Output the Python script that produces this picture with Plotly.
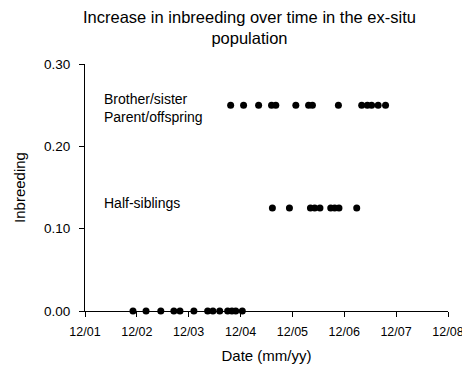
import plotly.graph_objects as go

# Inbreeding coefficient per recorded birth, grouped by parental relationship
dates_unrelated = ["2002-11-04", "2003-02-04", "2003-05-19", "2003-08-19", "2003-10-01",
                   "2004-01-07", "2004-04-13", "2004-05-20", "2004-07-07", "2004-09-01",
                   "2004-10-01", "2004-10-28", "2004-12-13"]
inbreeding_unrelated = [0.0] * len(dates_unrelated)

dates_half = ["2005-07-13", "2005-11-10", "2006-04-07", "2006-05-07", "2006-06-13",
              "2006-08-28", "2006-09-25", "2006-10-25", "2007-02-27"]
inbreeding_half = [0.125] * len(dates_half)

dates_full = ["2004-09-22", "2004-12-22", "2005-04-07", "2005-07-07", "2005-08-06",
              "2005-12-25", "2006-03-25", "2006-04-21", "2006-10-21", "2007-04-03",
              "2007-05-13", "2007-06-12", "2007-07-28", "2007-09-18"]
inbreeding_full = [0.25] * len(dates_full)

FONT = "Liberation Sans, Arial, sans-serif"

fig = go.Figure()
for xs, ys in [(dates_unrelated, inbreeding_unrelated),
               (dates_half, inbreeding_half),
               (dates_full, inbreeding_full)]:
    fig.add_trace(go.Scatter(
        x=xs, y=ys, mode="markers",
        marker=dict(color="black", size=7),
        showlegend=False, cliponaxis=False,
    ))

fig.update_layout(
    width=462, height=368,
    margin=dict(l=85, r=14, t=64, b=57),
    paper_bgcolor="white", plot_bgcolor="white",
    font=dict(family=FONT, size=14, color="black"),
    showlegend=False,
)

fig.update_xaxes(
    type="date",
    range=["2001-12-01", "2008-12-01"],
    tick0="2001-12-01", dtick="M12", tickformat="%m/%y",
    ticklabeloverflow="allow", automargin=False,
    tickfont=dict(size=12.5), ticklabelstandoff=4,
    showline=True, linecolor="black", linewidth=1,
    ticks="outside", ticklen=5, tickcolor="black",
    showgrid=False, zeroline=False,
    title=dict(text="Date (mm/yy)", font=dict(size=15), standoff=12),
)
fig.update_yaxes(
    range=[0, 0.30], dtick=0.10, tickformat=".2f",
    automargin=False,
    tickfont=dict(size=13.5), ticklabelstandoff=6,
    showline=True, linecolor="black", linewidth=1,
    ticks="outside", ticklen=5, tickcolor="black",
    showgrid=False, zeroline=False,
    title=dict(text="Inbreeding", font=dict(size=15), standoff=14),
)

fig.add_annotation(
    text="Increase in inbreeding over time in the ex-situ<br>population",
    xref="paper", yref="paper", x=0.452, y=1.0, yshift=58,
    xanchor="center", yanchor="top", showarrow=False,
    font=dict(size=16.5), align="center",
)

labels = [("Brother/sister<br>Parent/offspring", 0.247),
          ("Half-siblings", 0.131)]
for txt, yv in labels:
    fig.add_annotation(
        text=txt, xref="paper", yref="y", x=0.047, y=yv,
        xanchor="left", yanchor="middle", showarrow=False,
        font=dict(size=14), align="left",
    )

fig.write_html("out.html")
